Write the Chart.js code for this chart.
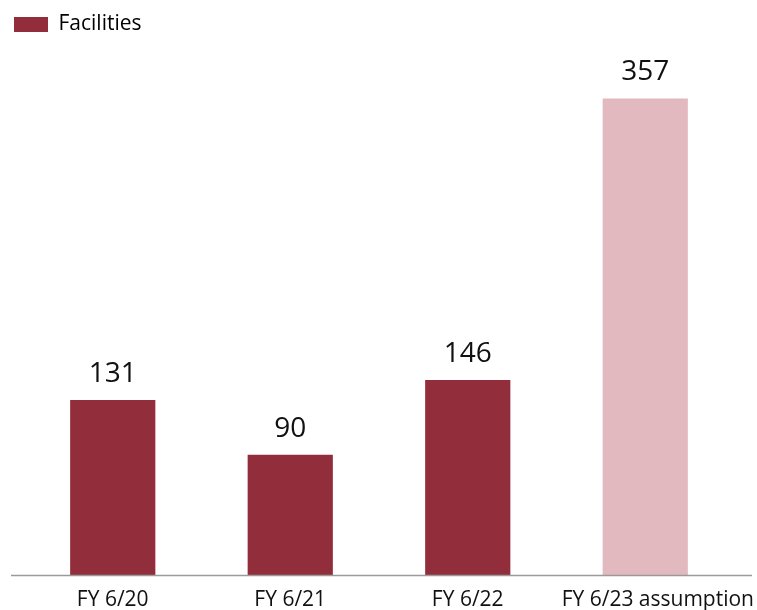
<!DOCTYPE html>
<html>
<head>
<meta charset="utf-8">
<script src="https://cdn.jsdelivr.net/npm/chart.js@4/dist/chart.umd.min.js"></script>
<style>
  html, body { margin: 0; padding: 0; background: #fff; }
  #wrap { width: 757px; height: 610px; }
</style>
</head>
<body>
<div id="wrap"><canvas id="c" width="757" height="610"></canvas></div>
<script>
const categories = ['FY 6/20', 'FY 6/21', 'FY 6/22', 'FY 6/23 assumption'];
const facilities = [131, 90, 146, 357];
const seriesName = 'Facilities';

const actualColor = '#922D3C';
const forecastColor = '#E1B9BF';
const barColors = categories.map((c, i) => i === categories.length - 1 ? forecastColor : actualColor);

// Value labels above each bar
const valueLabels = {
  id: 'valueLabels',
  afterDatasetsDraw(chart) {
    const ctx = chart.ctx;
    const meta = chart.getDatasetMeta(0);
    ctx.save();
    ctx.font = '28px "Open Sans"';
    ctx.fillStyle = '#111';
    ctx.textAlign = 'center';
    ctx.textBaseline = 'bottom';
    meta.data.forEach((bar, i) => {
      ctx.fillText(String(facilities[i]), bar.x, bar.y - 12);
    });
    ctx.restore();
  }
};

// Baseline across the full width, plus category labels kept inside the canvas
const baseline = {
  id: 'baseline',
  afterDatasetsDraw(chart) {
    const ctx = chart.ctx;
    const xs = chart.scales.x;
    const y = chart.scales.y.getPixelForValue(0);
    ctx.save();
    ctx.strokeStyle = '#9a9a9a';
    ctx.lineWidth = 1.5;
    ctx.beginPath();
    ctx.moveTo(11, y + 0.5);
    ctx.lineTo(752, y + 0.5);
    ctx.stroke();

    ctx.font = '21px "Open Sans"';
    ctx.fillStyle = '#111';
    ctx.textAlign = 'center';
    ctx.textBaseline = 'middle';
    const rightLimit = chart.width - 3;
    categories.forEach((label, i) => {
      const w = ctx.measureText(label).width;
      let cx = xs.getPixelForTick(i);
      if (i === categories.length - 1) cx = rightLimit - w / 2;
      ctx.fillText(label, cx, y + 25);
    });
    ctx.restore();
  }
};

new Chart(document.getElementById('c'), {
  type: 'bar',
  data: {
    labels: categories,
    datasets: [{
      label: seriesName,
      data: facilities,
      backgroundColor: barColors,
      categoryPercentage: 1,
      barPercentage: 0.48
    }]
  },
  options: {
    responsive: false,
    animation: false,
    layout: { padding: { left: 12, right: 23, top: 12, bottom: 0 } },
    plugins: {
      legend: {
        position: 'top',
        align: 'start',
        labels: {
          boxWidth: 34,
          boxHeight: 15,
          padding: 2,
          color: '#111',
          font: { family: 'Open Sans', size: 21 },
          generateLabels: () => [{
            text: seriesName,
            fillStyle: actualColor,
            strokeStyle: actualColor,
            lineWidth: 0,
            hidden: false,
            datasetIndex: 0
          }]
        }
      },
      tooltip: { enabled: false }
    },
    scales: {
      x: {
        grid: { display: false, drawTicks: false },
        border: { display: false },
        ticks: { display: false, autoSkip: false },
        afterFit(scale) { scale.height = 35; }
      },
      y: {
        min: 0,
        max: 397,
        grid: { display: false },
        border: { display: false },
        ticks: { display: false },
        afterFit(scale) { scale.width = 12; }
      }
    }
  },
  plugins: [valueLabels, baseline]
});
</script>
</body>
</html>
